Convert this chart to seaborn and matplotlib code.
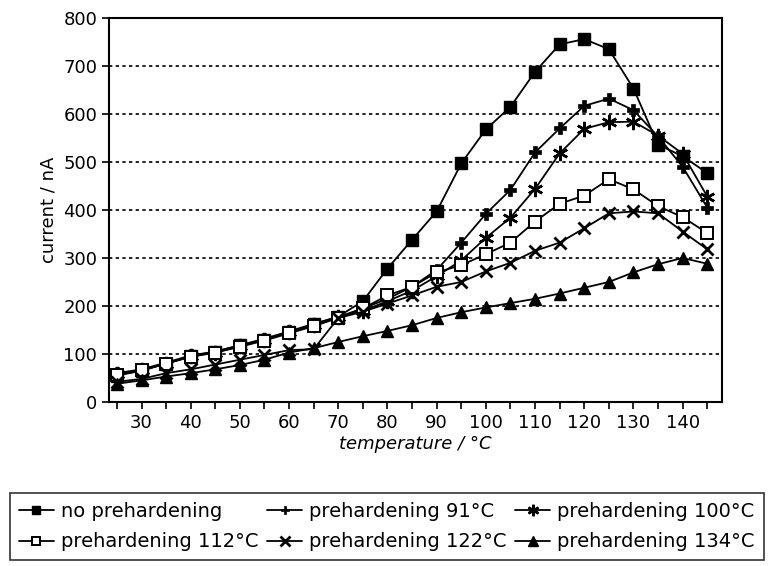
import numpy as np
import pandas as pd
import seaborn as sns
import matplotlib.pyplot as plt

# temperatures (deg C)
temperature = [25, 30, 35, 40, 45, 50, 55, 60, 65, 70, 75, 80, 85,
               90, 95, 100, 105, 110, 115, 120, 125, 130, 135, 140, 145]

# current / nA
no_preh = [55, 65, 80, 95, 105, 118, 130, 145, 162, 178, 210, 278, 338,
           397, 497, 568, 615, 688, 745, 756, 735, 653, 536, 512, 477]
preh_91 = [60, 68, 82, 97, 105, 118, 132, 147, 163, 177, 195, 215, 240,
           275, 332, 392, 442, 520, 570, 617, 632, 608, 553, 490, 405]
preh_100 = [58, 66, 80, 95, 103, 116, 130, 145, 160, 176, 190, 210, 232,
            262, 295, 342, 384, 444, 518, 569, 583, 584, 555, 517, 428]
preh_112 = [56, 66, 80, 94, 103, 115, 128, 143, 158, 175, 195, 222, 240,
            270, 285, 308, 332, 376, 413, 430, 464, 443, 408, 385, 352]
preh_122 = [42, 48, 60, 68, 78, 88, 98, 108, 110, 175, 188, 205, 222,
            240, 250, 272, 290, 315, 332, 362, 393, 397, 393, 355, 318]
preh_134 = [38, 45, 53, 60, 68, 77, 88, 103, 112, 125, 137, 148, 160,
            175, 187, 197, 206, 215, 226, 238, 250, 270, 287, 300, 288]

labels = ['no prehardening', 'prehardening 91°C', 'prehardening 100°C',
          'prehardening 112°C', 'prehardening 122°C', 'prehardening 134°C']
series = [no_preh, preh_91, preh_100, preh_112, preh_122, preh_134]

# marker styles per series
styles = [
    dict(marker='s', markersize=8, mfc='black', mec='black', mew=1),
    dict(marker='P', markersize=8, mfc='black', mec='black', mew=0.5),
    dict(marker=(6, 2, 0), markersize=11, mfc='black', mec='black', mew=1.8),
    dict(marker='s', markersize=8, mfc='white', mec='black', mew=1.4),
    dict(marker='x', markersize=9, mfc='black', mec='black', mew=2),
    dict(marker='^', markersize=9, mfc='black', mec='black', mew=1),
]

sns.set_style('ticks')
plt.rcParams['font.family'] = ['DejaVu Sans']
plt.rcParams['text.color'] = 'black'
plt.rcParams['axes.labelcolor'] = 'black'

fig = plt.figure(figsize=(7.7, 5.66), dpi=100)
ax = fig.add_axes([0.1416, 0.2898, 0.7961, 0.6784])

for lab, vals, st in zip(labels, series, styles):
    sns.lineplot(x=temperature, y=vals, ax=ax, color='black', lw=1.3,
                 label=lab, **st)

ax.set_xlim(23.4, 148)
ax.set_ylim(0, 800)
ax.set_xticks(np.arange(25, 146, 5))
ax.set_xticklabels([str(t) if t % 10 == 0 and 30 <= t <= 140 else ''
                    for t in range(25, 146, 5)])
ax.set_yticks(np.arange(0, 801, 100))
ax.tick_params(axis='both', direction='out', length=5, width=1.2,
               labelsize=13, colors='black')
ax.yaxis.grid(True, linestyle=(0, (2, 2)), color='black', lw=1.2)
ax.set_axisbelow(True)
for sp in ax.spines.values():
    sp.set_visible(True)
    sp.set_color('black')
    sp.set_linewidth(1.5)

ax.set_xlabel('temperature / °C', fontsize=13, style='italic', labelpad=2,
              color='black')
ax.set_ylabel('current / nA', fontsize=13, labelpad=4, color='black')

handles, labs = ax.get_legend_handles_labels()
ax.get_legend().remove()
order = [0, 3, 1, 4, 2, 5]
leg = fig.legend([handles[i] for i in order], [labs[i] for i in order],
                 loc='upper left', bbox_to_anchor=(10 / 770, 1 - 493 / 566),
                 ncol=3, fontsize=14, frameon=True, labelcolor='black',
                 fancybox=False, edgecolor='black', handlelength=1.8,
                 handletextpad=0.36, markerscale=0.75, borderaxespad=0,
                 columnspacing=0.45, labelspacing=0.6, borderpad=0.45)
leg.get_frame().set_linewidth(1.2)

fig.savefig('out.png', dpi=100)
